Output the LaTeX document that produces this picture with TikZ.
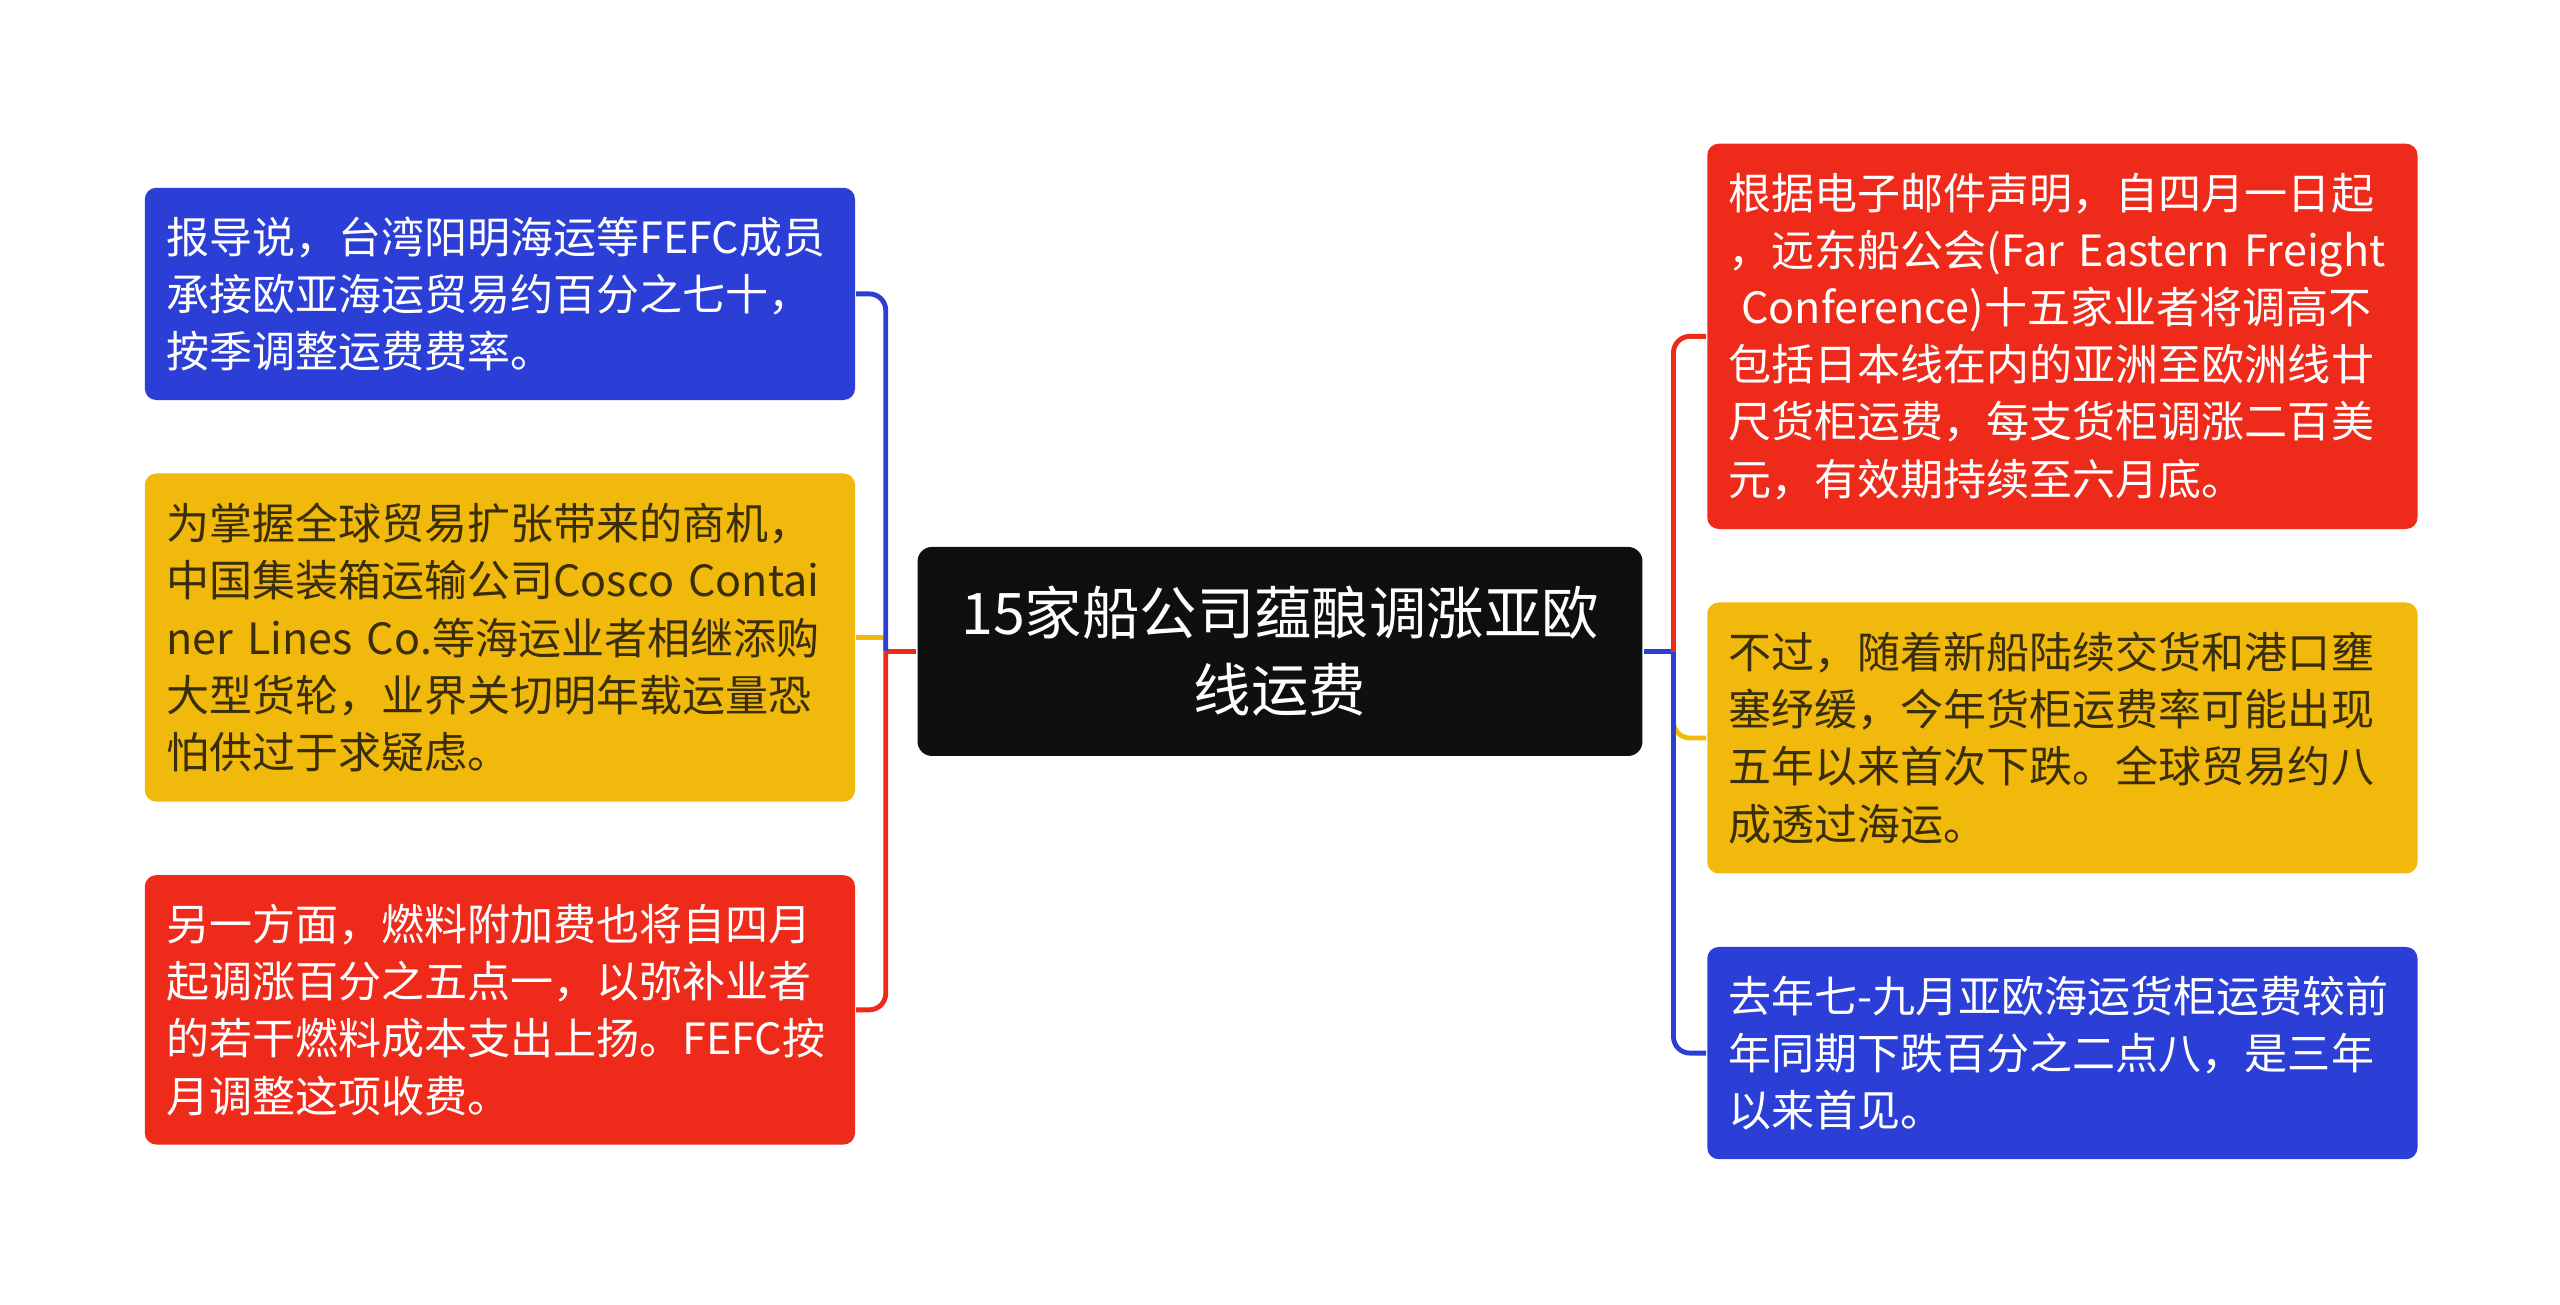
\documentclass[tikz,border=0pt]{standalone}
\usepackage{fontspec}
\newfontfamily\cjk{Noto Sans CJK SC}
\usepackage{xcolor}
\usepackage{tikz}
\usetikzlibrary{positioning}

\definecolor{mapblue}{HTML}{2B3FD7}
\definecolor{mapred}{HTML}{EE2A1B}
\definecolor{mapyellow}{HTML}{F0B90C}
\definecolor{mapblack}{HTML}{0F0F0F}
\definecolor{mapink}{HTML}{3A2E08}

\begin{document}
\begin{tikzpicture}[
  leaf/.style={rectangle, rounded corners=2pt, text width=4.09cm, inner xsep=0.13cm, inner ysep=0pt,
    align=left, anchor=west, font=\cjk\fontsize{7.5}{9.96}\selectfont},
  hub/.style={rectangle, rounded corners=2.5pt, fill=mapblack, text=white, minimum width=4.44cm,
    minimum height=1.28cm, align=center, font=\cjk\fontsize{10}{13.4}\selectfont},
  link/.style={line width=0.85pt, rounded corners=0.1cm}
]
\useasboundingbox (0,0) rectangle (15.68,-7.99);

% central topic
\node[hub] (hub) at (7.84,-3.99) {15家船公司蕴酿调涨亚欧\\线运费};

% left branch
\node[leaf, fill=mapblue, text=white, minimum height=1.30cm] (l1) at (0.88,-1.80)
  {报导说，台湾阳明海运等FEFC成员\\承接欧亚海运贸易约百分之七十，\\按季调整运费费率。};
\node[leaf, fill=mapyellow, text=mapink, minimum height=2.01cm] (l2) at (0.88,-3.905)
  {为掌握全球贸易扩张带来的商机，\\中国集装箱运输公司Cosco~Contai\\ner~Lines~Co.等海运业者相继添购\\大型货轮，业界关切明年载运量恐\\怕供过于求疑虑。};
\node[leaf, fill=mapred, text=white, minimum height=1.65cm] (l3) at (0.88,-6.185)
  {另一方面，燃料附加费也将自四月\\起调涨百分之五点一，以弥补业者\\的若干燃料成本支出上扬。FEFC按\\月调整这项收费。};

% right branch
\node[leaf, fill=mapred, text=white, minimum height=2.36cm] (r1) at (10.45,-2.06)
  {根据电子邮件声明，自四月一日起\\，远东船公会(Far~Eastern~Freight\\\hspace*{0.3em}Conference)十五家业者将调高不\\包括日本线在内的亚洲至欧洲线廿\\尺货柜运费，每支货柜调涨二百美\\元，有效期持续至六月底。};
\node[leaf, fill=mapyellow, text=mapink, minimum height=1.66cm] (r2) at (10.45,-4.52)
  {不过，随着新船陆续交货和港口壅\\塞纾缓，今年货柜运费率可能出现\\五年以来首次下跌。全球贸易约八\\成透过海运。};
\node[leaf, fill=mapblue, text=white, minimum height=1.30cm] (r3) at (10.45,-6.45)
  {去年七-九月亚欧海运货柜运费较前\\年同期下跌百分之二点八，是三年\\以来首见。};

% connectors
\coordinate (jl) at (5.425,-3.99);
\coordinate (jr) at (10.25,-3.99);
\draw[link, mapred] (hub.west) -- (jl);
\draw[link, mapred] (jl) |- (l3.east);
\draw[link, mapyellow, sharp corners] (jl) |- (l2.east);
\draw[link, mapblue] (jl) |- (l1.east);
\draw[link, mapblue] (hub.east) -- (jr);
\draw[link, mapred] (jr) |- (r1.west);
\draw[link, mapyellow] (jr) |- (r2.west);
\draw[link, mapblue] (jr) |- (r3.west);
\end{tikzpicture}
\end{document}
